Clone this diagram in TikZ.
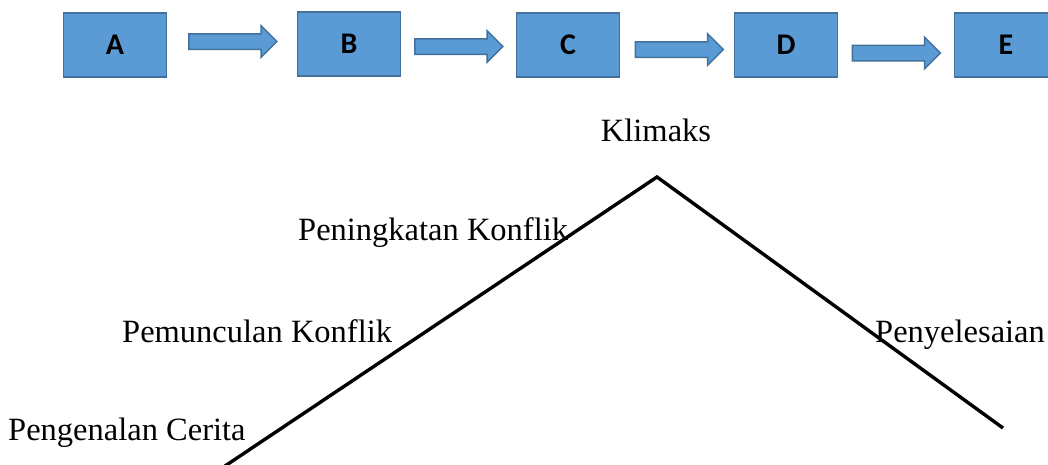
\documentclass[tikz,border=0pt]{standalone}
\usepackage{fontspec}
\setmainfont{Liberation Serif}
\newfontfamily\boxfont{Carlito}
\usepackage{tikz}
\usetikzlibrary{shapes.arrows}

\definecolor{boxblue}{HTML}{5B9BD5}
\definecolor{boxedge}{HTML}{41719C}

\tikzset{
  stagebox/.style={rectangle,fill=boxblue,draw=boxedge,line width=1.8pt,
    minimum width=103pt,minimum height=64pt,inner sep=0pt,
    font=\boxfont\bfseries\fontsize{30}{36}\selectfont},
  blockarr/.style={single arrow,fill=boxblue,draw=boxedge,line width=1.5pt,
    minimum height=88pt,inner xsep=0pt,inner ysep=7pt,
    single arrow head extend=8pt},
  phase/.style={font=\fontsize{32.5}{39}\selectfont,inner sep=0pt},
  plotline/.style={line width=3.4pt,black}
}

\begin{document}
\begin{tikzpicture}[x=1pt,y=-1pt]

\clip (0,0) rectangle (1048,464);

\begin{scope}
    \node[stagebox] (a) at (115,45) {A};
    \node[stagebox] (b) at (349,44) {B};
    \node[stagebox] (c) at (568,45) {C};
    \node[stagebox] (d) at (786,45) {D};
    \node[stagebox] (e) at (1006,45) {E};

    \node[blockarr] (ab) at (229,41.5) {};
    \node[blockarr] (bc) at (455,46.5) {};
    \node[blockarr] (cd) at (675.5,49.5) {};
    \node[blockarr] (de) at (892.5,53) {};
\end{scope}

    \node[phase,anchor=base] (klimaks) at (656,141) {Klimaks};
    \node[phase,anchor=base west] (naik) at (298,240) {Peningkatan Konflik};
    \node[phase,anchor=base west] (muncul) at (122,342) {Pemunculan Konflik};
    \node[phase,anchor=base west] (kenal) at (8,440) {Pengenalan Cerita};
    \node[phase,anchor=base west] (selesai) at (875,342) {Penyelesaian};

    \coordinate (start) at (225,466);
    \coordinate (peak) at (657,177);
    \coordinate (end) at (1003,428);

    \draw[plotline] (start) -- (peak) -- (end);

\end{tikzpicture}
\end{document}
